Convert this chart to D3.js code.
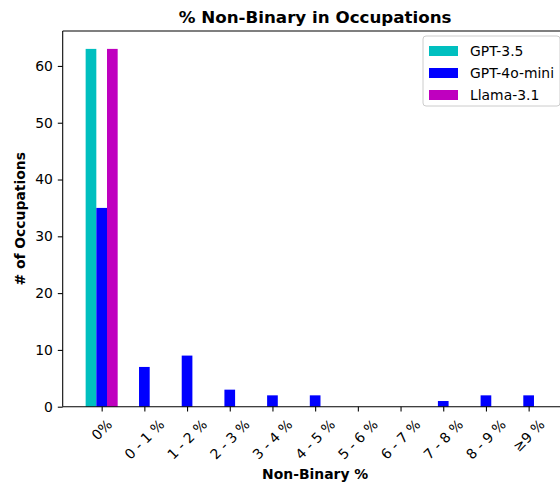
<!DOCTYPE html>
<html lang="en">
<head>
  <meta charset="UTF-8">
  <title>% Non-Binary in Occupations</title>
  <style>
    body { margin: 0; background: #fff; }
    svg { display: block; font-family: "DejaVu Sans", sans-serif; }
  </style>
</head>
<body>
<div id="chart"></div>
<script src="https://d3js.org/d3.v7.min.js"></script>
<script>

// data
const categories = ["0%", "0 - 1 %", "1 - 2 %", "2 - 3 %", "3 - 4 %", "4 - 5 %",
  "5 - 6 %", "6 - 7 %", "7 - 8 %", "8 - 9 %", "\u22659 %"];
const seriesNames = ["GPT-3.5", "GPT-4o-mini", "Llama-3.1"];
const gpt35 = [63, 0, 0, 0, 0, 0, 0, 0, 0, 0, 0];
const gpt4oMini = [35, 7, 9, 3, 2, 2, 0, 0, 1, 2, 2];
const llama31 = [63, 0, 0, 0, 0, 0, 0, 0, 0, 0, 0];
const yTicks = [0, 10, 20, 30, 40, 50, 60];

const colors = ["#00bfbf", "#0000ff", "#bf00bf"];
const allSeries = [gpt35, gpt4oMini, llama31];

const W = 560, H = 487;
const plot = { left: 62.7, right: 567.6, top: 31, bottom: 406.7 };
const barW = 0.25;

const svg = d3.select("#chart").append("svg")
  .attr("width", W).attr("height", H);

// linear x over category index, like matplotlib's bar positions
const x = d3.scaleLinear().domain([-0.9125, categories.length - 1 + 0.9125]).range([plot.left, plot.right]);
const y = d3.scaleLinear().domain([0, 66.15]).range([plot.bottom, plot.top]);

// bars
allSeries.forEach((vals, si) => {
  const off = (si - 1) * barW;
  svg.append("g").selectAll("rect")
    .data(vals)
    .enter().append("rect")
    .attr("x", (d, i) => x(i + off - barW / 2))
    .attr("width", x(barW) - x(0))
    .attr("y", d => y(d))
    .attr("height", d => y(0) - y(d))
    .attr("fill", colors[si]);
});

// y axis
const yAxis = svg.append("g")
  .attr("transform", `translate(${plot.left},0)`)
  .call(d3.axisLeft(y).tickValues(yTicks).tickSize(4.9).tickPadding(4.9));
yAxis.select(".domain").remove();
yAxis.selectAll("text").attr("font-size", 13.9).attr("fill", "#000")
  .attr("font-family", "DejaVu Sans, sans-serif");
yAxis.selectAll("line").attr("stroke", "#000").attr("stroke-width", 1.07);

// x axis ticks
const xAxis = svg.append("g")
  .attr("transform", `translate(0,${plot.bottom})`)
  .call(d3.axisBottom(x).tickValues(d3.range(categories.length)).tickSize(4.9).tickFormat(""));
xAxis.select(".domain").remove();
xAxis.selectAll("line").attr("stroke", "#000").attr("stroke-width", 1.07);

// rotated tick labels, centred on the tick like matplotlib ha='center'
const s45 = Math.SQRT1_2;
categories.forEach((c, i) => {
  const t = svg.append("text")
    .attr("font-size", 13.9)
    .attr("text-anchor", "middle")
    .attr("dominant-baseline", "central")
    .text(c);
  const w = t.node().getComputedTextLength();
  const h = 13.9 * 1.1;
  const bh = (w + h) * s45;
  const cx = x(i), cy = plot.bottom + 4.9 + 4.9 + bh / 2;
  t.attr("transform", `translate(${cx},${cy}) rotate(-45)`);
});

// spines
const spine = (x1, y1, x2, y2) => svg.append("line")
  .attr("x1", x1).attr("y1", y1).attr("x2", x2).attr("y2", y2)
  .attr("stroke", "#000").attr("stroke-width", 1.07);
spine(plot.left, plot.top, plot.left, plot.bottom);
spine(plot.left, plot.bottom, plot.right, plot.bottom);
spine(plot.left, plot.top, plot.right, plot.top);

// title and axis labels
svg.append("text")
  .attr("x", (plot.left + plot.right) / 2).attr("y", plot.top - 8)
  .attr("text-anchor", "middle")
  .attr("font-size", 16.7).attr("font-weight", "bold")
  .text("% Non-Binary in Occupations");

svg.append("text")
  .attr("x", (plot.left + plot.right) / 2).attr("y", 479)
  .attr("text-anchor", "middle")
  .attr("font-size", 13.9).attr("font-weight", "bold")
  .text("Non-Binary %");

svg.append("text")
  .attr("transform", `translate(25,${(plot.top + plot.bottom) / 2}) rotate(-90)`)
  .attr("text-anchor", "middle")
  .attr("font-size", 13.9).attr("font-weight", "bold")
  .text("# of Occupations");

// legend
const lg = svg.append("g").attr("transform", "translate(423,36)");
lg.append("rect")
  .attr("width", 137).attr("height", 70).attr("rx", 3)
  .attr("fill", "#fff").attr("fill-opacity", 0.8)
  .attr("stroke", "#cccccc").attr("stroke-width", 1);
seriesNames.forEach((name, i) => {
  const yy = 12 + i * 22;
  lg.append("rect")
    .attr("x", 6).attr("y", yy - 2).attr("width", 29).attr("height", 10)
    .attr("fill", colors[i]);
  lg.append("text")
    .attr("x", 47).attr("y", yy + 3)
    .attr("dominant-baseline", "central")
    .attr("font-size", 13.9)
    .text(name);
});
</script>
</body>
</html>
